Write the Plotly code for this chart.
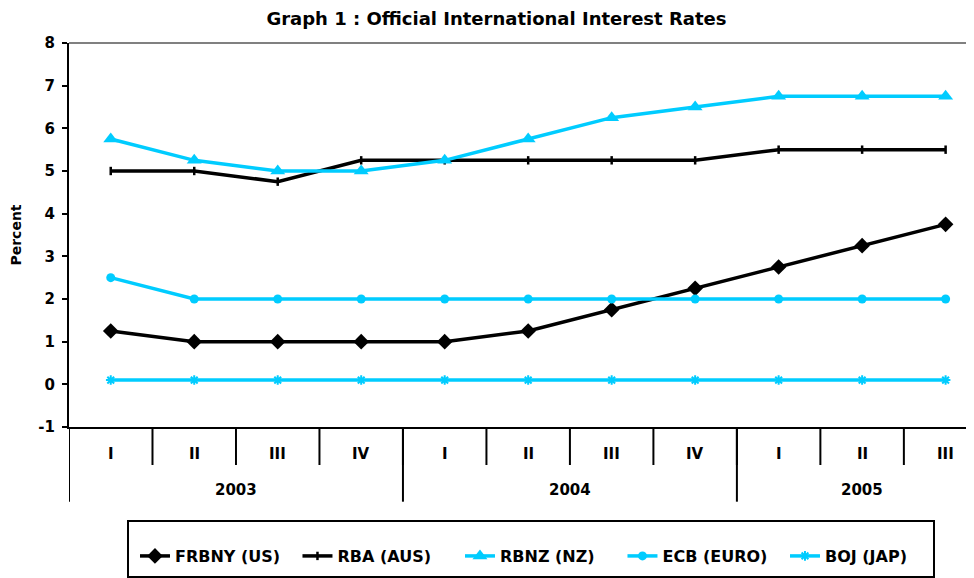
import plotly.graph_objects as go

quarters = ["I", "II", "III", "IV", "I", "II", "III", "IV", "I", "II", "III"]
years = ["2003", "2004", "2005"]
year_centers = [1.5, 5.5, 9.0]
year_bounds = [-0.5, 3.5, 7.5]
y_ticks = [-1, 0, 1, 2, 3, 4, 5, 6, 7, 8]
y_tick_labels = ["-1", "0", "1", "2", "3", "4", "5", "6", "7", "8"]

frbny = [1.25, 1.0, 1.0, 1.0, 1.0, 1.25, 1.75, 2.25, 2.75, 3.25, 3.75]
rba = [5.0, 5.0, 4.75, 5.25, 5.25, 5.25, 5.25, 5.25, 5.5, 5.5, 5.5]
rbnz = [5.75, 5.25, 5.0, 5.0, 5.25, 5.75, 6.25, 6.5, 6.75, 6.75, 6.75]
ecb = [2.5, 2.0, 2.0, 2.0, 2.0, 2.0, 2.0, 2.0, 2.0, 2.0, 2.0]
boj = [0.1, 0.1, 0.1, 0.1, 0.1, 0.1, 0.1, 0.1, 0.1, 0.1, 0.1]

x = list(range(len(quarters)))
CYAN = "#00CCFF"
FONT = "DejaVu Sans, Liberation Sans, Arial, sans-serif"

fig = go.Figure()
fig.add_trace(go.Scatter(x=x, y=frbny, name="FRBNY (US)", mode="lines+markers",
                         line=dict(color="black", width=3.5),
                         marker=dict(symbol="diamond", size=12, color="black")))
fig.add_trace(go.Scatter(x=x, y=rba, name="RBA (AUS)", mode="lines+markers",
                         line=dict(color="black", width=3.5),
                         marker=dict(symbol="line-ns-open", size=6, color="black",
                                     line=dict(color="black", width=2.5))))
fig.add_trace(go.Scatter(x=x, y=rbnz, name="RBNZ (NZ)", mode="lines+markers",
                         line=dict(color=CYAN, width=3.5),
                         marker=dict(symbol="triangle-up", size=13, color=CYAN)))
fig.add_trace(go.Scatter(x=x, y=ecb, name="ECB (EURO)", mode="lines+markers",
                         line=dict(color=CYAN, width=3.5),
                         marker=dict(symbol="circle", size=9, color=CYAN)))
fig.add_trace(go.Scatter(x=x, y=boj, name="BOJ (JAP)", mode="lines+markers",
                         line=dict(color=CYAN, width=3.5),
                         marker=dict(symbol="asterisk-open", size=8, color=CYAN,
                                     line=dict(color=CYAN, width=2))))

shapes = []
# top grey border of plot area
shapes.append(dict(type="line", xref="paper", yref="paper", x0=0, x1=1.02, y0=1, y1=1,
                   line=dict(color="#808080", width=2)))
# quarter dividers
for i in range(len(quarters)):
    b = i + 0.5
    shapes.append(dict(type="line", xref="x", yref="paper", x0=b, x1=b, y0=0, y1=-0.099,
                       line=dict(color="black", width=2)))
# year dividers
for yb in year_bounds:
    shapes.append(dict(type="line", xref="x", yref="paper", x0=yb, x1=yb, y0=0, y1=-0.1945,
                       line=dict(color="black", width=2)))
# legend frame
shapes.append(dict(type="rect", xref="paper", yref="paper", x0=0.0652, x1=0.9558,
                   y0=-0.2448, y1=-0.3906, line=dict(color="black", width=2),
                   fillcolor="rgba(0,0,0,0)"))

annotations = []
for i, q in enumerate(quarters):
    annotations.append(dict(x=i, y=-0.0716, xref="x", yref="paper", text=q, showarrow=False,
                            yanchor="middle",
                            font=dict(family=FONT, size=15, color="black", weight="bold")))
for c, yr in zip(year_centers, years):
    annotations.append(dict(x=c, y=-0.163, xref="x", yref="paper", text=yr, showarrow=False,
                            yanchor="middle",
                            font=dict(family=FONT, size=15, color="black", weight="bold")))

fig.update_layout(
    width=974, height=578,
    margin=dict(l=61, r=8, t=35, b=159, autoexpand=False),
    paper_bgcolor="white", plot_bgcolor="white",
    title=dict(text="Graph 1 : Official International Interest Rates",
               xref="container", x=0.5015, xanchor="center",
               yref="container", y=0.981, yanchor="middle",
               font=dict(family=FONT, size=18, color="black", weight="bold")),
    xaxis=dict(range=[-0.5, 10.34], showticklabels=False, showgrid=False, zeroline=False,
               showline=True, linecolor="black", linewidth=2, ticks="", automargin=False),
    yaxis=dict(range=[-1, 8], tickmode="array", tickvals=y_ticks, ticktext=y_tick_labels,
               showgrid=False, zeroline=False, showline=True,
               linecolor="black", linewidth=2, ticks="outside", ticklen=5, tickwidth=1.5,
               tickcolor="black", automargin=False, ticklabelstandoff=4,
               tickfont=dict(family=FONT, size=15, color="black", weight="bold"),
               title=dict(text="Percent", standoff=14,
                          font=dict(family=FONT, size=14, color="black", weight="bold"))),
    showlegend=True,
    legend=dict(orientation="h", x=0.0729, xanchor="left", y=-0.336, yanchor="middle",
                borderwidth=0, bgcolor="rgba(0,0,0,0)",
                font=dict(family=FONT, size=16, color="black", weight="bold"),
                itemwidth=30, entrywidth=117.5, entrywidthmode="pixels", tracegroupgap=0),
    shapes=shapes, annotations=annotations,
)

fig.write_html("out.html")
